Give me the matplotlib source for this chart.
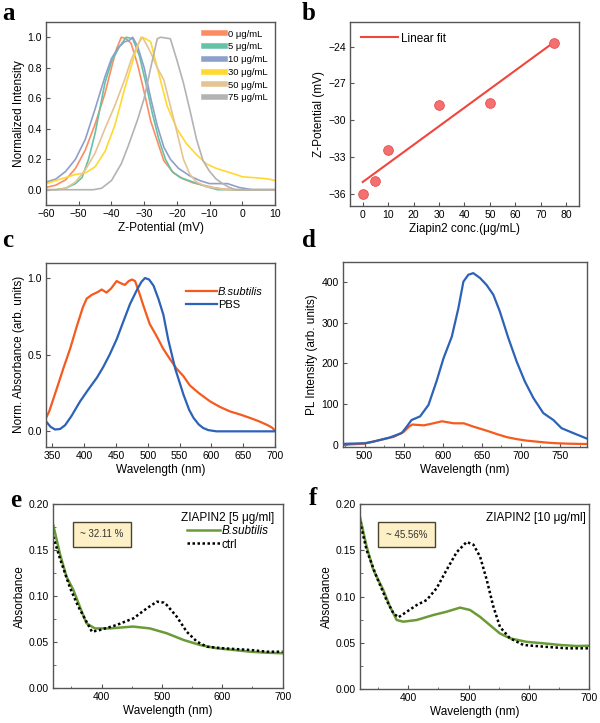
import numpy as np
import matplotlib
matplotlib.use("Agg")
import matplotlib.pyplot as plt
from matplotlib.lines import Line2D
from matplotlib.ticker import MultipleLocator

plt.rcParams['font.family'] = ['Liberation Sans', 'DejaVu Sans']
plt.rcParams['axes.edgecolor'] = '#555555'
plt.rcParams['axes.linewidth'] = 1.0

### panel a: zeta potential distributions ###
conc_labels = ['0 μg/mL', '5 μg/mL', '10 μg/mL', '30 μg/mL', '50 μg/mL', '75 μg/mL']
conc_colors = ['#fc8d62', '#66c2a5', '#8da0cb', '#ffd92f', '#e5c494', '#b3b3b3']
za_x = [
    [-60, -57, -54, -51, -48, -45, -42, -40, -38.5, -37, -35.5, -34, -32, -30, -28, -26, -24, -21, -18, -15, -12, -9, -6, -3, 10],
    [-60, -57, -54, -51, -49, -47, -45, -42, -40, -37.5, -35.5, -33.5, -31.5, -29.5, -27.5, -25.5, -23.5, -21.5, -19, -15, -11, -7.5, 10],
    [-60, -57, -54, -51, -48, -45, -42, -40, -38, -36, -34.5, -33.5, -32, -30, -28, -26, -24, -22, -19.5, -16, -13, -10, -4.5, -1, 3, 10],
    [-60, -57, -54, -51, -48, -45, -42, -39, -36, -33, -31, -29.5, -28, -26, -23, -20, -17, -14, -11, -8, -5, -2, 0, 3, 6, 8, 10],
    [-60, -57, -54, -51, -48, -45, -42, -39, -36, -34, -32, -30.5, -28, -26, -24, -22, -20, -18, -16, -14, -11, -8, -5, 10],
    [-60, -45.5, -43, -40, -37, -35, -32, -30, -28, -26, -25, -22, -20, -18, -16, -14, -12, -10, -8, -6, -4, -2, 10],
]
za_y = [
    [0.015, 0.03, 0.065, 0.14, 0.26, 0.43, 0.63, 0.8, 0.92, 1.0, 0.99, 0.96, 0.82, 0.64, 0.45, 0.32, 0.19, 0.11, 0.07, 0.045, 0.03, 0.015, 0.005, 0, 0],
    [0, 0, 0.01, 0.04, 0.08, 0.2, 0.37, 0.7, 0.84, 0.94, 1.0, 0.99, 0.88, 0.7, 0.5, 0.33, 0.2, 0.12, 0.08, 0.05, 0.02, 0, 0],
    [0.05, 0.07, 0.12, 0.2, 0.33, 0.53, 0.74, 0.86, 0.93, 0.97, 0.98, 1.0, 0.94, 0.8, 0.6, 0.42, 0.28, 0.2, 0.14, 0.09, 0.06, 0.04, 0.04, 0.015, 0, 0],
    [0.04, 0.06, 0.08, 0.1, 0.11, 0.15, 0.25, 0.42, 0.66, 0.88, 1.0, 0.99, 0.97, 0.8, 0.55, 0.4, 0.3, 0.23, 0.17, 0.14, 0.12, 0.1, 0.085, 0.08, 0.075, 0.07, 0.06],
    [0, 0, 0.01, 0.05, 0.13, 0.24, 0.4, 0.55, 0.72, 0.85, 0.95, 1.0, 0.9, 0.8, 0.72, 0.55, 0.38, 0.2, 0.1, 0.05, 0.02, 0.01, 0, 0],
    [0, 0, 0.01, 0.06, 0.17, 0.28, 0.46, 0.6, 0.8, 0.99, 1.0, 0.99, 0.85, 0.7, 0.52, 0.33, 0.19, 0.12, 0.07, 0.04, 0.015, 0, 0],
]

### panel b: zeta potential vs concentration ###
conc = [0, 5, 10, 30, 50, 75]
zeta = [-36.0, -35.0, -32.4, -28.8, -28.6, -23.7]

### panel c: normalized absorbance ###
c_bs_w = [340, 345, 357, 368, 378, 388, 398, 404, 412, 422, 427.5, 435, 442, 451, 458, 464, 470, 475, 480, 486, 493,
          503, 514, 524, 535, 545, 556, 566, 580, 598, 613, 629, 645, 661, 675, 687, 695, 700]
c_bs_a = [0.087, 0.13, 0.28, 0.42, 0.54, 0.68, 0.81, 0.866, 0.89, 0.91, 0.925, 0.905, 0.93, 0.98, 0.965, 0.955, 0.98, 0.99, 0.98, 0.91, 0.82,
          0.70, 0.62, 0.54, 0.47, 0.41, 0.36, 0.3, 0.25, 0.195, 0.16, 0.13, 0.11, 0.087, 0.065, 0.043, 0.025, 0.005]
c_pbs_w = [340, 347, 354, 362, 370, 380, 393.5, 406, 420, 430, 440, 451, 461, 472, 482.6, 490, 495.6, 502, 509, 517, 524.5,
           532, 543, 556, 565, 572, 580, 587, 595, 608, 700]
c_pbs_a = [0.065, 0.03, 0.012, 0.015, 0.04, 0.1, 0.195, 0.27, 0.35, 0.42, 0.5, 0.6, 0.71, 0.83, 0.92, 0.975, 1.0, 0.99, 0.95, 0.86, 0.76,
           0.6, 0.41, 0.24, 0.14, 0.087, 0.045, 0.022, 0.008, 0, 0]

### panel d: PL spectra ###
d_pbs_w = [472, 500, 511, 532, 547.5, 554, 560, 571, 581.7, 592, 601, 611.6, 620, 626.4, 632.7, 639, 647.7, 656, 664.7,
           673, 684, 694.5, 705, 716, 728.7, 741.6, 752, 767, 785]
d_pbs_i = [2.5, 4, 8, 18, 29, 45, 61, 70, 98, 156, 213, 266, 336, 401, 418, 422, 410, 393, 369,
           328, 262, 205, 156, 115, 78, 61, 41, 29, 15]
d_bs_w = [472, 500, 520, 537.6, 550, 557, 561, 568, 576, 588, 599, 614, 627, 639, 656, 670, 682, 695, 707, 720, 733, 746, 760, 785]
d_bs_i = [0, 3, 12, 20, 32, 45, 50, 49, 48, 53, 58, 53, 53, 45, 35, 26, 19, 14, 10.5, 8, 5.6, 4, 3, 2]

### panel e: 5 ug/ml ###
e_bs_w = [320, 331, 342, 353, 364, 375, 389, 414, 452, 480, 508, 536, 563, 591, 619, 646, 674, 700]
e_bs_a = [0.177, 0.146, 0.121, 0.107, 0.0886, 0.0705, 0.065, 0.065, 0.067, 0.065, 0.0597, 0.0524, 0.047, 0.0434, 0.0416, 0.0397, 0.0386, 0.038]
e_ct_w = [320, 331, 348, 361.5, 375, 384, 397.5, 425, 453, 475, 491.6, 503, 508, 524.6, 541, 558, 574.5, 602, 646, 674, 700]
e_ct_a = [0.1645, 0.141, 0.1085, 0.0886, 0.0723, 0.0614, 0.0633, 0.0687, 0.076, 0.0868, 0.094, 0.093, 0.0904, 0.0777, 0.0614,
          0.0506, 0.0451, 0.0434, 0.0416, 0.0397, 0.0397]

### panel f: 10 ug/ml ###
f_bs_w = [320, 331, 342, 358.6, 369.7, 380.8, 391.8, 414, 441.5, 463.7, 485.8, 502.4, 519, 535.4, 552, 568.6, 596, 624, 651.5, 679, 700]
f_bs_a = [0.186, 0.154, 0.129, 0.107, 0.089, 0.0746, 0.0728, 0.0746, 0.08, 0.0836, 0.088, 0.0854, 0.078, 0.069, 0.06, 0.0548,
          0.051, 0.0494, 0.0476, 0.0465, 0.0468]
f_ct_w = [320, 331, 347.6, 364, 375.4, 383.7, 397.6, 414, 430.5, 447, 463.7, 480.3, 496.8, 508, 519, 530, 541, 552, 568.6,
          590.7, 624, 662.5, 700]
f_ct_a = [0.181, 0.15, 0.121, 0.096, 0.0818, 0.0775, 0.0836, 0.0908, 0.0962, 0.109, 0.129, 0.148, 0.159, 0.156, 0.143, 0.118,
          0.089, 0.067, 0.0548, 0.0476, 0.0458, 0.044, 0.044]

orange = '#f55a1e'
blue = '#2c62b8'
green = '#6b9b37'
tick_fs = 7.5
lab_fs = 8.5


def style(ax):
    ax.tick_params(direction='in', labelsize=tick_fs, length=3, width=0.8, color='#555555', pad=3)
    ax.tick_params(which='minor', direction='in', length=1.8, width=0.6, color='#555555')


fig = plt.figure(figsize=(6, 7.23), dpi=100)

# a
ax = fig.add_axes([0.0767, 0.7165, 0.3817, 0.2531])
for xs, ys, c in zip(za_x, za_y, conc_colors):
    ax.plot(xs, ys, color=c, lw=1.2)
ax.set_xlim(-60, 10)
ax.set_ylim(-0.1, 1.1)
ax.set_xticks(range(-60, 11, 10))
ax.set_yticks([0, 0.2, 0.4, 0.6, 0.8, 1.0])
ax.set_xlabel('Z-Potential (mV)', fontsize=lab_fs, labelpad=2)
ax.set_ylabel('Normalized Intensity', fontsize=lab_fs, labelpad=2)
style(ax)
handles = [Line2D([], [], color=c, lw=4) for c in conc_colors]
ax.legend(handles, conc_labels, loc='upper right', frameon=False, fontsize=6.8,
          handlelength=2.2, handletextpad=0.3, labelspacing=0.4, borderaxespad=0.4)

# b
ax = fig.add_axes([0.5833, 0.7151, 0.3817, 0.2545])
slope, icpt = np.polyfit(conc, zeta, 1)
fx = np.array([conc[0], conc[-1]])
ax.plot(fx, slope * fx + icpt, color='#f0463c', lw=1.5, label='Linear fit')
ax.plot(conc, zeta, 'o', ms=7, mfc='#f47070', mec='#e65050', mew=0.6)
ax.set_xlim(-5, 85)
ax.set_ylim(-37, -22)
ax.set_xticks(range(0, 81, 10))
ax.set_yticks([-36, -33, -30, -27, -24])
ax.set_xlabel('Ziapin2 conc.(μg/mL)', fontsize=lab_fs, labelpad=2)
ax.set_ylabel('Z-Potential (mV)', fontsize=lab_fs, labelpad=2)
style(ax)
ax.legend(loc='upper left', frameon=False, fontsize=8.5, handlelength=3.2, handletextpad=0.2, borderaxespad=0.5)

# c
ax = fig.add_axes([0.0767, 0.3822, 0.3817, 0.2545])
ax.plot(c_bs_w, c_bs_a, color=orange, lw=1.6, label='B.subtilis')
ax.plot(c_pbs_w, c_pbs_a, color=blue, lw=1.6, label='PBS')
ax.set_xlim(340, 700)
ax.set_ylim(-0.1, 1.1)
ax.set_xticks(range(350, 701, 50))
ax.set_yticks([0, 0.5, 1.0])
ax.set_xlabel('Wavelength (nm)', fontsize=lab_fs, labelpad=2)
ax.set_ylabel('Norm. Absorbance (arb. units)', fontsize=lab_fs, labelpad=2)
style(ax)
leg = ax.legend(loc='upper right', bbox_to_anchor=(0.99, 0.92), frameon=False, fontsize=8,
                handlelength=2.8, handletextpad=0.1, labelspacing=0.2)
leg.get_texts()[0].set_style('italic')

# d
ax = fig.add_axes([0.5712, 0.3813, 0.4077, 0.2567])
ax.plot(d_bs_w, d_bs_i, color=orange, lw=1.6)
ax.plot(d_pbs_w, d_pbs_i, color=blue, lw=1.6)
ax.set_xlim(472, 785)
ax.set_ylim(-6, 450)
ax.set_xticks(range(500, 751, 50))
ax.xaxis.set_minor_locator(MultipleLocator(25))
ax.set_yticks(range(0, 401, 100))
ax.set_xlabel('Wavelength (nm)', fontsize=lab_fs, labelpad=2)
ax.set_ylabel('PL Intensity (arb. units)', fontsize=lab_fs, labelpad=2)
style(ax)

# e and f
for pos, bw, ba, cw, ca, title, box_txt, box_x, show_leg in [
        ([0.0888, 0.048, 0.3823, 0.2549], e_bs_w, e_bs_a, e_ct_w, e_ct_a, 'ZIAPIN2 [5 μg/ml]', '~ 32.11 %', 400, True),
        ([0.6, 0.047, 0.3822, 0.2559], f_bs_w, f_bs_a, f_ct_w, f_ct_a, 'ZIAPIN2 [10 μg/ml]', '~ 45.56%', 397, False)]:
    ax = fig.add_axes(pos)
    ax.plot(bw, ba, color=green, lw=1.8, label='B.subtilis')
    ax.plot(cw, ca, color='black', lw=1.8, ls=(0, (1, 1)), label='ctrl')
    ax.set_xlim(320, 700)
    ax.set_ylim(0, 0.2)
    ax.set_xticks([400, 500, 600, 700])
    ax.set_yticks([0, 0.05, 0.10, 0.15, 0.20])
    ax.set_yticklabels(['0.00', '0.05', '0.10', '0.15', '0.20'])
    ax.xaxis.set_minor_locator(MultipleLocator(50))
    ax.yaxis.set_minor_locator(MultipleLocator(0.025))
    ax.set_xlabel('Wavelength (nm)', fontsize=lab_fs, labelpad=2)
    ax.set_ylabel('Absorbance', fontsize=lab_fs, labelpad=2)
    style(ax)
    ax.text(box_x, 0.167, box_txt, fontsize=7, ha='center', va='center', color='#333333',
            bbox=dict(boxstyle='square,pad=0.75', fc='#fdf0c6', ec='#4a4430', lw=1))
    if show_leg:
        leg = ax.legend(loc='upper right', frameon=False, fontsize=8.5, title=title, title_fontsize=8.5,
                        handlelength=2.8, handletextpad=0.2, labelspacing=0.1, borderaxespad=0.3)
        leg.get_texts()[0].set_style('italic')
    else:
        ax.text(0.985, 0.955, title, transform=ax.transAxes, ha='right', va='top', fontsize=8.5)

# panel letters
for x, y, s in [(0.003, 0.972, 'a'), (0.503, 0.972, 'b'), (0.003, 0.658, 'c'), (0.503, 0.658, 'd'),
                (0.017, 0.299, 'e'), (0.515, 0.302, 'f')]:
    fig.text(x, y, s, fontsize=18, fontweight='bold', family='Liberation Serif', ha='left', va='baseline')

fig.savefig('out.png', dpi=100)
